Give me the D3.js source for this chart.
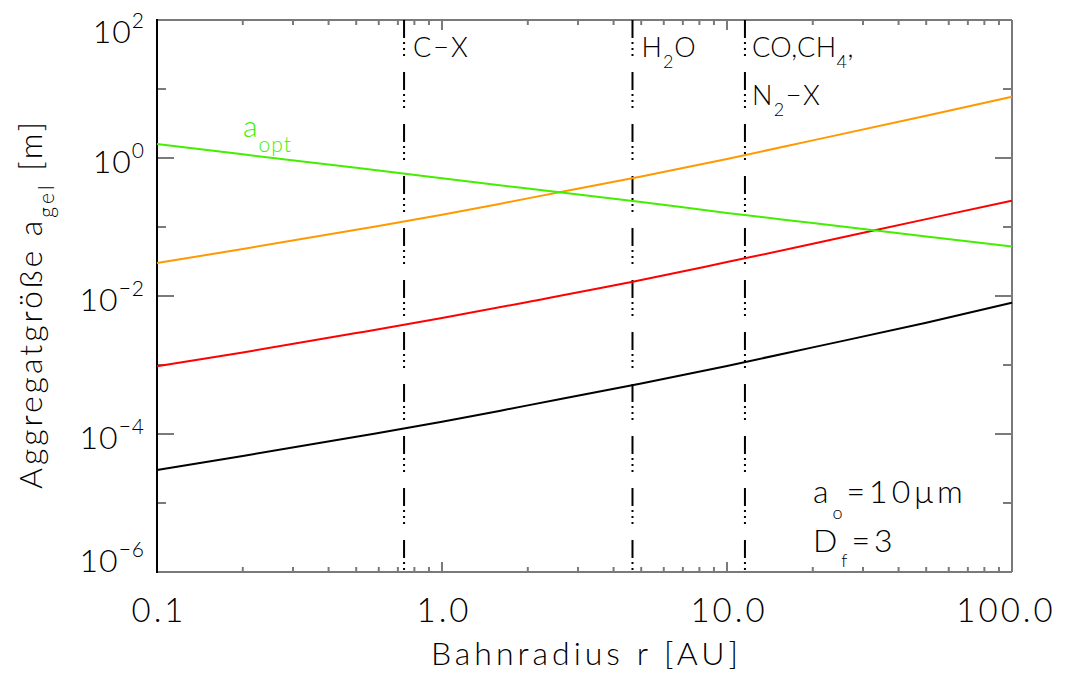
<!DOCTYPE html>
<html>
<head>
<meta charset="utf-8">
<script src="https://cdn.jsdelivr.net/npm/d3@7"></script>
<style>
  body { margin: 0; background: #fff; }
  text { font-family: Lato, "Open Sans", sans-serif; font-weight: 300; fill: #000; }
</style>
</head>
<body>
<div id="chart"></div>
<script>
// orbital radius samples [AU]
var radius = [0.1, 0.2, 0.5, 1, 2, 5, 10, 20, 50, 100];
// aggregate sizes [m]
var aBlack  = [3.0e-5, 4.8e-5, 9.1e-5, 1.5e-4, 2.6e-4, 5.4e-4, 9.7e-4, 1.8e-3, 4.1e-3, 8.0e-3];
var aRed    = [9.6e-4, 1.52e-3, 2.9e-3, 4.8e-3, 8.2e-3, 1.7e-2, 3.1e-2, 5.7e-2, 0.13, 0.24];
var aOrange = [0.030, 0.048, 0.091, 0.15, 0.26, 0.54, 0.97, 1.8, 4.1, 7.7];
var aOpt    = [1.6, 1.13, 0.72, 0.51, 0.36, 0.23, 0.16, 0.114, 0.073, 0.052];
// condensation lines [AU]
var iceLineR = [0.736, 4.66, 11.56];
var xTickValues = [0.1, 1, 10, 100];
var xTickLabels = ["0.1", "1.0", "10.0", "100.0"];
var yTickExp = [2, 0, -2, -4, -6];

var widthTotal = 1073,
  heightTotal = 677,
  margin = {top: 20, right: 61, bottom: 105, left: 157},
  width = widthTotal - margin.left - margin.right,
  height = heightTotal - margin.top - margin.bottom,
  frameColor = "#7a7a7a";

var svg = d3.select("#chart").append("svg")
  .attr("width", widthTotal)
  .attr("height", heightTotal)
  .append("g")
  .attr("transform", "translate(" + margin.left + "," + margin.top + ")");

var x = d3.scaleLog().domain([0.1, 100]).range([0, width]);
var y = d3.scaleLog().domain([1e-6, 1e2]).range([height, 0]);

// minor ticks: 2..9 per decade on x, every decade on y
var xMinor = [];
[0.1, 1, 10].forEach(function(d) { for (var k = 2; k <= 9; k++) xMinor.push(d * k); });
var yAll = d3.range(-6, 3).map(function(e) { return Math.pow(10, e); });

var frame = svg.append("g").attr("stroke", frameColor).attr("stroke-width", 2);

// x ticks, bottom and top
xMinor.forEach(function(v) {
  frame.append("line").attr("x1", x(v)).attr("x2", x(v)).attr("y1", height).attr("y2", height - 5);
  frame.append("line").attr("x1", x(v)).attr("x2", x(v)).attr("y1", 0).attr("y2", 5);
});
xTickValues.forEach(function(v) {
  frame.append("line").attr("x1", x(v)).attr("x2", x(v)).attr("y1", height).attr("y2", height - 10);
  frame.append("line").attr("x1", x(v)).attr("x2", x(v)).attr("y1", 0).attr("y2", 10);
});
// y ticks, left and right
yAll.forEach(function(v) {
  var major = Math.round(Math.log10(v)) % 2 === 0;
  var len = major ? 17 : 9;
  frame.append("line").attr("x1", 0).attr("x2", len).attr("y1", y(v)).attr("y2", y(v));
  frame.append("line").attr("x1", width).attr("x2", width - len).attr("y1", y(v)).attr("y2", y(v));
});

// frame
frame.append("line").attr("x1", 0).attr("x2", width).attr("y1", 0).attr("y2", 0);
frame.append("line").attr("x1", 0).attr("x2", width).attr("y1", height).attr("y2", height);
frame.append("line").attr("x1", width).attr("x2", width).attr("y1", 0).attr("y2", height);
svg.append("line").attr("x1", 0).attr("x2", 0).attr("y1", -1).attr("y2", height + 1)
  .attr("stroke", "#000").attr("stroke-width", 2);

// condensation lines, dash dot dot dot
svg.selectAll(".iceline")
  .data(iceLineR)
  .enter()
  .append("line")
  .attr("class", "iceline")
  .attr("x1", function(d) { return x(d); })
  .attr("x2", function(d) { return x(d); })
  .attr("y1", 0)
  .attr("y2", height)
  .attr("stroke", "#000")
  .attr("stroke-width", 2)
  .attr("stroke-dasharray", "18,4,2,4,2,4,2,16");

// curves
var series = [
  {values: aBlack, color: "#000000"},
  {values: aRed, color: "#ff0000"},
  {values: aOrange, color: "#ff9900"},
  {values: aOpt, color: "#44ee00"}
];
var line = d3.line()
  .x(function(d) { return x(d[0]); })
  .y(function(d) { return y(d[1]); })
  .curve(d3.curveMonotoneX);

series.forEach(function(s) {
  svg.append("path")
    .datum(radius.map(function(r, i) { return [r, s.values[i]]; }))
    .attr("fill", "none")
    .attr("stroke", s.color)
    .attr("stroke-width", 2)
    .attr("d", line);
});

// y tick labels 10^n
yTickExp.forEach(function(e) {
  var py = y(Math.pow(10, e));
  var base = Math.max(23, Math.min(height, py + 15));
  var t = svg.append("text")
    .attr("x", -12)
    .attr("y", base)
    .attr("text-anchor", "end")
    .attr("font-size", 32)
    .attr("letter-spacing", 1);
  t.append("tspan").text("10");
  t.append("tspan").attr("font-size", 21).attr("dy", -15)
    .text(e < 0 ? "\u2212" + (-e) : String(e));
});

// x tick labels
xTickValues.forEach(function(v, i) {
  svg.append("text")
    .attr("x", x(v) + (i === xTickValues.length - 1 ? -6 : 2))
    .attr("y", height + 50)
    .attr("text-anchor", "middle")
    .attr("font-size", 33)
    .attr("letter-spacing", 3)
    .text(xTickLabels[i]);
});

// axis titles
svg.append("text")
  .attr("x", width / 2 + 2)
  .attr("y", height + 93)
  .attr("text-anchor", "middle")
  .attr("font-size", 32)
  .attr("letter-spacing", 4)
  .text("Bahnradius r [AU]");

var yTitle = svg.append("text")
  .attr("transform", "translate(" + (42 - margin.left) + "," + (304 - margin.top) + ") rotate(-90)")
  .attr("text-anchor", "middle")
  .attr("font-size", 32)
  .attr("letter-spacing", 3);
yTitle.append("tspan").text("Aggregatgr\u00f6\u00dfe a");
yTitle.append("tspan").attr("font-size", 21).attr("dy", 12).text("gel");
yTitle.append("tspan").attr("dy", -12).text(" [m]");

// condensation line labels
function subText(px, py, parts, size, subSize, spacing, color) {
  var t = svg.append("text").attr("x", px).attr("y", py)
    .attr("font-size", size).attr("letter-spacing", spacing);
  if (color) t.style("fill", color);
  parts.forEach(function(p) {
    var s = t.append("tspan").text(p.text);
    if (p.sub) s.attr("font-size", subSize).attr("dy", p.sub);
    if (p.back) s.attr("dy", p.back);
  });
  return t;
}
var ly = 37;
subText(x(iceLineR[0]) + 9, ly, [{text: "C\u2212X"}], 27, 18, 2);
subText(x(iceLineR[1]) + 9, ly, [{text: "H"}, {text: "2", sub: 11}, {text: "O", back: -11}], 27, 18, 1);
subText(x(iceLineR[2]) + 7, ly, [{text: "CO,CH"}, {text: "4", sub: 11}, {text: ",", back: -11}], 27, 18, 0.5);
subText(x(iceLineR[2]) + 7, ly + 48, [{text: "N"}, {text: "2", sub: 11}, {text: "\u2212X", back: -11}], 27, 18, 1.5);

// a_opt label
subText(86, 117, [{text: "a"}, {text: "opt", sub: 15}], 30, 21, 1, "#44ee00");

// parameter box
subText(656, 483, [{text: "a"}, {text: "o", sub: 16}, {text: "=10\u03bcm", back: -16}], 32, 18, 4);
subText(656, 532, [{text: "D"}, {text: "f", sub: 15}, {text: "=3", back: -15}], 32, 18, 4);
</script>
</body>
</html>
